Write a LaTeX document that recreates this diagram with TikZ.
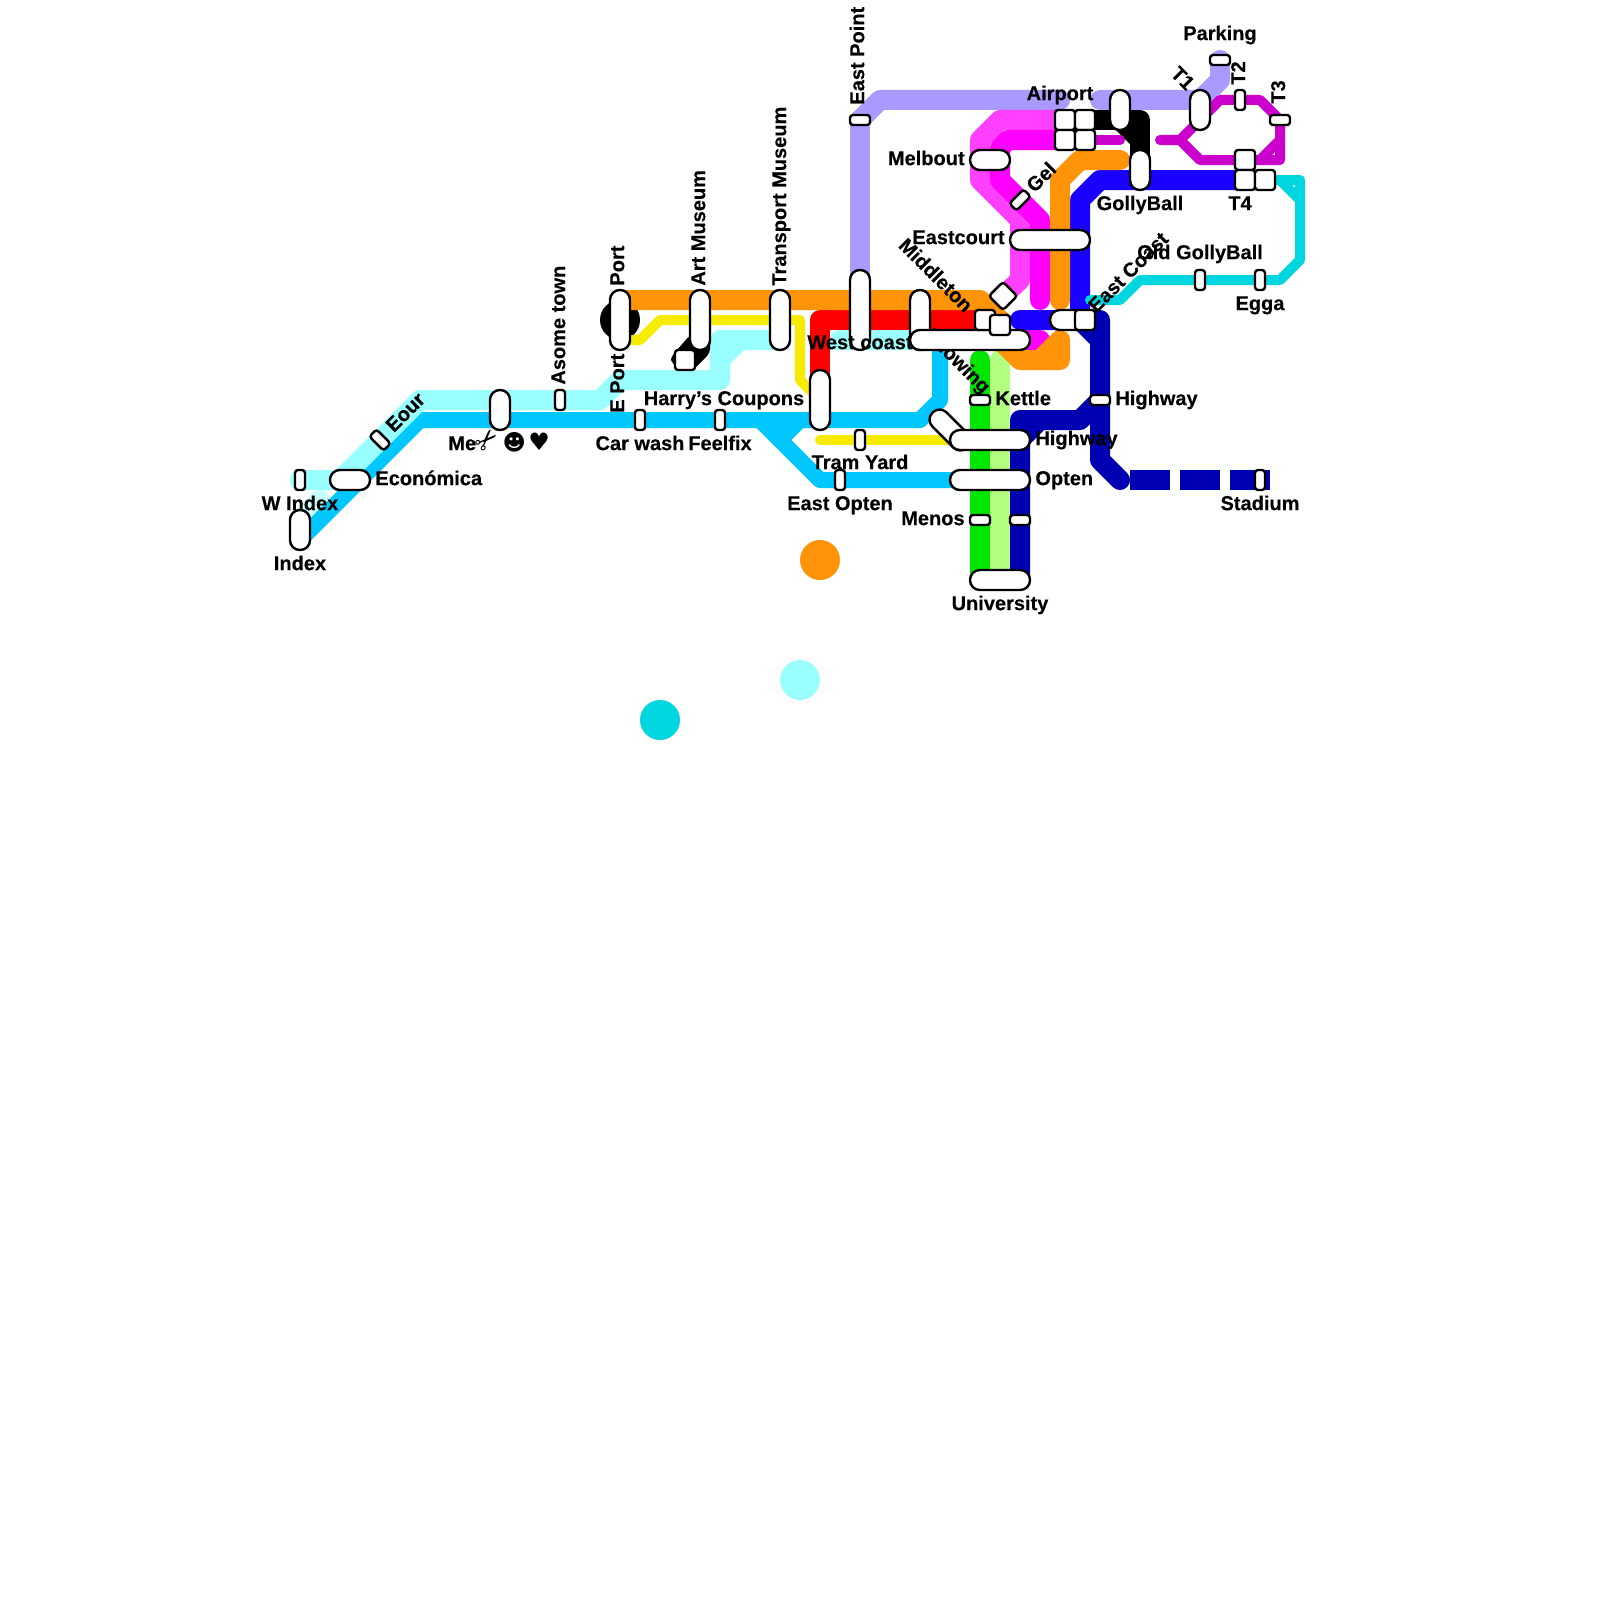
\documentclass[tikz,border=0pt]{standalone}
\usepackage{fontspec}
\setmainfont{Liberation Sans}[BoldFeatures={FakeBold=0.25}]
\newfontfamily\sym{DejaVu Sans}
\pgfdeclarelayer{bg}
\pgfsetlayers{bg,main}
\definecolor{lcyan}{HTML}{99FFFF}
\definecolor{pcyan}{HTML}{C8FFFF}
\definecolor{sky}{HTML}{00C8FF}
\definecolor{orng}{HTML}{FF9408}
\definecolor{purp}{HTML}{AA99FF}
\definecolor{lmag}{HTML}{FF40FF}
\definecolor{vmag}{HTML}{FF00FF}
\definecolor{dmag}{HTML}{CC00CC}
\definecolor{turq}{HTML}{00D6E0}
\definecolor{vblue}{HTML}{1A00FF}
\definecolor{navy}{HTML}{0000B3}
\definecolor{grn}{HTML}{00E600}
\definecolor{pgrn}{HTML}{B3FF80}
\definecolor{yel}{HTML}{F7EB00}
\tikzset{
 wh/.style 2 args={minimum width=#1,minimum height=#2},
 stn/.style={draw=black,fill=white,line width=1.2pt,inner sep=0pt,rectangle},
 sm/.style={stn,rounded corners=1.5pt},
 pill/.style={stn,rounded corners=4.9pt},
 sV/.style={sm,wh={5pt}{10pt}},
 sH/.style={sm,wh={10pt}{5pt}},
 sq/.style={sm,wh={10pt}{10pt}},
 pV/.style={pill,wh={10pt}{#1}},
 pH/.style={pill,wh={#1}{10pt}},
 lab/.style={font=\bfseries\fontsize{10}{12}\selectfont,inner sep=0pt,text=black,text height=7.1pt,text depth=0pt},
 vl/.style={lab,rotate=90,anchor=west},
 ln/.style={line cap=round,line join=round,line width=10pt},
 lm/.style={line cap=round,line join=round,line width=8pt},
 lt/.style={line cap=round,line join=round,line width=5pt},
 dot/.style={circle,inner sep=0pt,minimum size=20pt}
}
\begin{document}
\begin{tikzpicture}[x=0.5pt,y=-0.5pt]
\useasboundingbox (0,0) rectangle (1600,1600);
% terminus discs
\node[dot,fill=orng] (discO) at (820,560) {};
\node[dot,fill=lcyan] (discC) at (800,680) {};
\node[dot,fill=turq] (discT) at (660,720) {};
% stations and labels
\node[pV=20pt] (nIndex) at (300,530) {};
\node[sV] (nWIndex) at (300,480) {};
\node[pH=20pt] (nEcon) at (350,480) {};
\node[sm,wh={10pt}{5pt},rotate=-45] (nEour) at (380,440) {};
\node[pV=20pt] (nMe) at (500,410) {};
\node[sV] (nAsome) at (560,400) {};
\node[sV] (nCar) at (640,420) {};
\node[sV] (nFeel) at (720,420) {};
\node[pV=30pt] (nPort) at (620,320) {};
\node[pV=30pt] (nArt) at (700,320) {};
\node[sq] (nArtSq) at (685,360) {};
\node[pV=30pt] (nTrans) at (780,320) {};
\node[sH] (nEPt) at (860,120) {};
\node[pV=40pt] (nEPt2) at (860,310) {};
\node[pV=30pt] (nHarry) at (820,400) {};
\node[sV] (nTram) at (860,440) {};
\node[sV] (nEOpt) at (840,480) {};
\node[pV=30pt] (nMid) at (920,320) {};
\node[lab] (lWest) at (860,342) {West coast};
\node[lab,rotate=-45] (lSnow) at (958,360) {Snowing};
\node[pH=60pt] (nWest) at (970,340) {};
\node[sq] (nSqA) at (985,320) {};
\node[sq] (nSqB) at (1000,325) {};
\node[sq,rotate=45] (nDia) at (1003,296) {};
\node[pH=20pt] (nEC) at (1070,320) {};
\node[sq] (nECs) at (1085,320) {};
\node[pH=40pt] (nEastc) at (1050,240) {};
\node[sm,wh={10pt}{5pt},rotate=45] (nGel) at (1020,200) {};
\node[pH=20pt] (nMelb) at (990,160) {};
\node[sq] (nA1) at (1065,120) {};
\node[sq] (nA2) at (1085,120) {};
\node[sq] (nA3) at (1065,140) {};
\node[sq] (nA4) at (1085,140) {};
\node[pV=20pt] (nAirTop) at (1120,110) {};
\node[pV=20pt] (nGolly) at (1140,170) {};
\node[pV=20pt] (nT1) at (1200,110) {};
\node[sH] (nPark) at (1220,60) {};
\node[sV] (nT2) at (1240,100) {};
\node[sH] (nT3) at (1280,120) {};
\node[sq] (nT4a) at (1245,160) {};
\node[sq] (nT4b) at (1245,180) {};
\node[sq] (nT4c) at (1265,180) {};
\node[sV] (nOld) at (1200,280) {};
\node[sV] (nEgga) at (1260,280) {};
\node[sH] (nKettle) at (980,400) {};
\node[sH] (nHwR) at (1100,400) {};
\node[pill,wh={24.7pt}{10pt},rotate=-45] (nHwD) at (950,430) {};
\node[pH=40pt] (nHw) at (990,440) {};
\node[pH=40pt] (nOpten) at (990,480) {};
\node[sH] (nMen1) at (980,520) {};
\node[sH] (nMen2) at (1020,520) {};
\node[pH=30pt] (nUni) at (1000,580) {};
\node[sV] (nStad) at (1260,480) {};
% labels
\node[lab] (lIndex) at (300,563) {Index};
\node[lab] (lWIndex) at (300,503) {W Index};
\node[lab,anchor=west] (lEcon) at (375,478) {Económica};
\node[lab,rotate=45] (lEour) at (405,412) {Eour};
\node[lab,anchor=west] (lMe) at (448,443) {Me\makebox[12pt][c]{\rotatebox[origin=c]{45}{\fontsize{14}{14}\selectfont\sym ✂}}\makebox[14pt][c]{\fontsize{11.2}{12}\selectfont\sym ☻}\makebox[11pt][c]{\fontsize{12}{12}\selectfont\sym ♥}};
\node[vl] (lAsome) at (558,385) {Asome town};
\node[vl] (lEPort) at (617,413) {E Port};
\node[vl] (lPort) at (617,286) {Port};
\node[vl] (lArt) at (698,286) {Art Museum};
\node[vl] (lTrans) at (779,286) {Transport Museum};
\node[vl] (lEPt) at (857,105) {East Point};
\node[lab] (lHarry) at (724,398) {Harry’s Coupons};
\node[lab] (lCar) at (640,443) {Car wash};
\node[lab] (lFeel) at (720,443) {Feelfix};
\node[lab] (lTram) at (860,462) {Tram Yard};
\node[lab] (lEOpt) at (840,503) {East Opten};
\node[lab,rotate=-45] (lMid) at (936,275) {Middleton};
\node[lab,anchor=east] (lMelb) at (965,158) {Melbout};
\node[lab,rotate=45] (lGel) at (1041,177) {Gel};
\node[lab] (lAir) at (1060,93) {Airport};
\node[lab,anchor=east] (lEastc) at (1005,237) {Eastcourt};
\node[lab] (lGolly) at (1140,203) {GollyBall};
\node[lab,rotate=-45] (lT1) at (1183,78) {T1};
\node[lab,rotate=90] (lT2) at (1238,73) {T2};
\node[lab,rotate=90] (lT3) at (1278,92) {T3};
\node[lab] (lT4) at (1240,203) {T4};
\node[lab] (lPark) at (1220,33) {Parking};
\node[lab] (lOld) at (1200,252) {Old GollyBall};
\node[lab] (lEgga) at (1260,303) {Egga};
\node[lab,rotate=45] (lEC) at (1128,272) {East Coast};
\node[lab,anchor=west] (lKet) at (995,398) {Kettle};
\node[lab,anchor=west] (lHwR) at (1115,398) {Highway};
\node[lab,anchor=west] (lHw) at (1035,438) {Highway};
\node[lab,anchor=west] (lOpt) at (1035,478) {Opten};
\node[lab,anchor=east] (lMen) at (965,518) {Menos};
\node[lab] (lUni) at (1000,603) {University};
\node[lab] (lStad) at (1260,503) {Stadium};
% lines, under the stations
\begin{pgfonlayer}{bg}
\fill[white] (0,0) rectangle (1600,1600);
\fill[black] (nPort.center) circle[radius=10pt];
\draw[ln,pcyan] (320,500) -- (300,520);
\draw[lm,sky] (300,540) -- (420,420) -- (920,420) -- (940,400) -- (940,350);
\draw[lm,sky] (760,420) -- (820,480) -- (nOpten.center);
\draw[lm,sky] (800,420) -- (780,440);
\draw[ln,lcyan] (nWIndex.center) -- (340,480) -- (420,400) -- (600,400) -- (620,380) -- (720,380) -- (720,340) -- (nTrans.center |- 0,340);
\draw[ln,lcyan] (720,360) -- (740,340);
\draw[ln,lcyan] (840,340) -- (920,340);
\fill[lcyan] (830,340) rectangle (845,350);
\draw[ln,red] (820,380) -- (820,320) -- (nSqB.center |- 0,320);
\draw[ln,purp] (nEPt.center) -- (880,100) -- (1060,100);
\draw[ln,purp] (1100,100) -- (1200,100) -- (1220,80) -- (nPark.center);
\draw[ln,purp] (nEPt.center) -- (860,300);
\draw[ln,lmag] (1060,120) -- (1000,120) -- (980,140) -- (980,180) -- (1020,220) -- (1020,280) -- (nDia.center);
\draw[ln,vmag] (1060,140) -- (1008,140) -- (1000,148) -- (1000,180) -- (1040,220) -- (1040,300);
\draw[ln,vmag] (1020,340) -- (1040,340);
\draw[ln,grn] (980,360) -- (980,580);
\draw[ln,pgrn] (1000,360) -- (1000,580);
\draw[ln,navy] (1020,580) -- (1020,420) -- (1080,420) -- (nHwR.center);
\draw[ln,navy] (1020,440) -- (1040,420);
\draw[ln,navy] (1080,320) -- (1100,320) -- (1100,460) -- (1120,480);
\draw[ln,navy] (1080,320) -- (1100,340);
\draw[line width=10pt,navy,dash pattern=on 20pt off 5pt] (1130,480) -- (1270,480);
\draw[ln,vblue] (nT4b.center) -- (1100,180) -- (1080,200) -- (1080,320) -- (1020,320);
\draw[ln,orng] (nPort.center |- 0,300) -- (980,300) -- (1000,320) -- (1000,340) -- (1020,360) -- (1060,360) -- (1060,340) -- (1040,360);
\draw[ln,orng] (1060,300) -- (1060,180) -- (1080,160) -- (1120,160);
\draw[ln,black] (1085,120) -- (1140,120) -- (nGolly.center);
\draw[ln,black] (1120,120) -- (1140,140);
\fill[black,rounded corners=2pt] (671,357) -- (690,335) -- (710,335) -- (710,353) -- (693,370) -- (680,370) -- (671,362) -- cycle;
\draw[lt,yel] (620,340) -- (640,340) -- (660,320) -- (800,320) -- (800,380) -- (nHarry.center);
\draw[lt,yel] (820,440) -- (nHw.center);
\draw[lt,dmag] (1085,140) -- (1120,140);
\draw[lt,dmag] (1160,140) -- (1180,140) -- (1220,100) -- (1260,100) -- (1280,120) -- (1280,160) -- (1200,160) -- (1180,140);
\draw[lt,dmag] (1280,140) -- (1260,160);
\draw[lt,turq] (nT4c.center) -- (1300,180) -- (1300,260) -- (1280,280) -- (1140,280) -- (1120,300) -- (1090,300);
\draw[lt,turq] (1280,180) -- (1300,200);
\end{pgfonlayer}
\end{tikzpicture}
\end{document}
